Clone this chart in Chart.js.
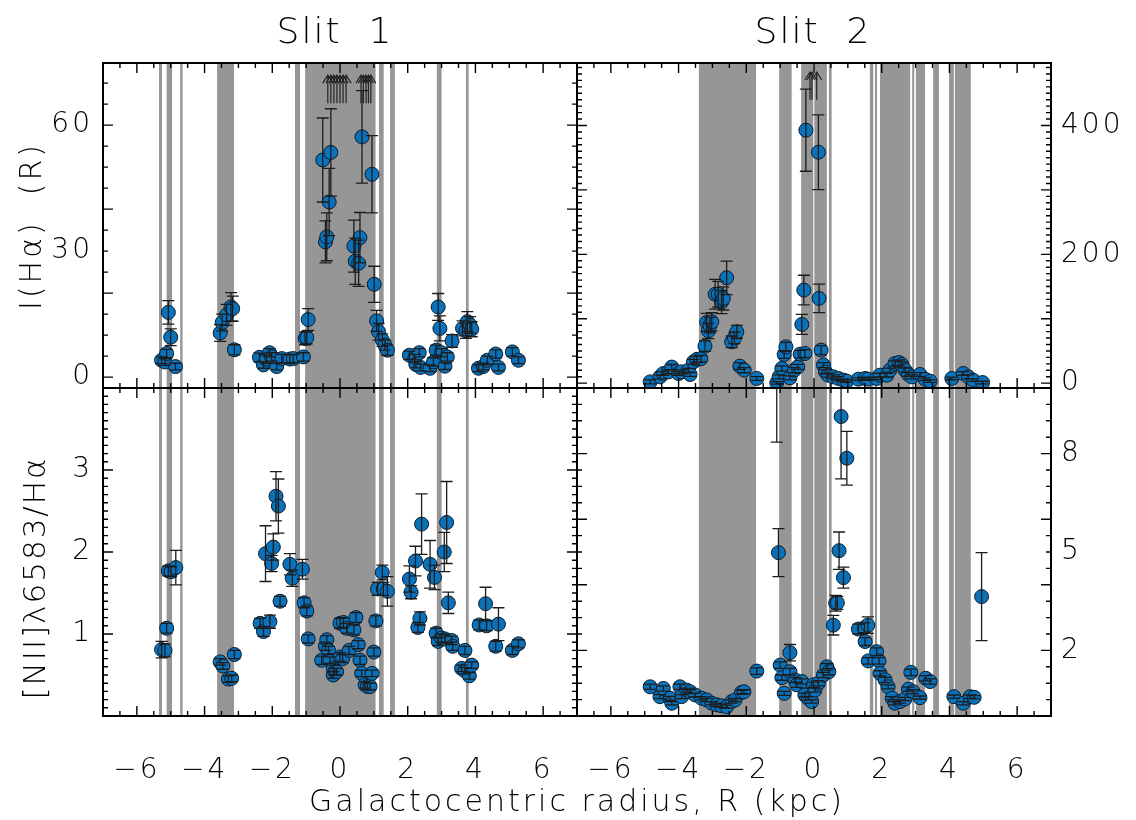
<!DOCTYPE html>
<html>
<head>
<meta charset="utf-8">
<script src="https://cdn.jsdelivr.net/npm/chart.js@4.4.1/dist/chart.umd.min.js"></script>
<style>
  html, body { margin: 0; padding: 0; background: #fff; }
  #wrap { position: relative; width: 1136px; height: 820px; overflow: hidden; background: #fff; }
  #wrap canvas { position: absolute; left: 0; top: 0; }
  .t { position: absolute; font-family: 'DejaVu Sans', sans-serif; font-weight: 200; color: #000; white-space: pre; transform: translate(-50%, -50%); line-height: 1; }
  .rot { transform: translate(-50%, -50%) rotate(-90deg); }
</style>
</head>
<body>
<div id="wrap">
  <canvas id="cTL" width="1136" height="820"></canvas>
  <canvas id="cTR" width="1136" height="820"></canvas>
  <canvas id="cBL" width="1136" height="820"></canvas>
  <canvas id="cBR" width="1136" height="820"></canvas>
  <div class="t" style="left:335px;top:31px;font-size:36px;letter-spacing:2px;">Slit  1</div>
  <div class="t" style="left:813px;top:31px;font-size:36px;letter-spacing:2px;">Slit  2</div>
  <div class="t" style="left:577px;top:801px;font-size:30px;letter-spacing:3px;">Galactocentric radius, R (kpc)</div>
  <div class="t rot" style="left:31px;top:226px;font-size:30px;letter-spacing:3px;">I(Hα)  (R)</div>
  <div class="t rot" style="left:34px;top:578px;font-size:31px;letter-spacing:2px;">[NII]λ6583/Hα</div>
</div>
<script>
// ---------------- DATA ----------------
// x tick labels (kpc) shared by both columns
const rTickLabels = [-6, -4, -2, 0, 2, 4, 6];
// y tick labels
const s1HaTickLabels = [0, 30, 60];
const s2HaTickLabels = [0, 200, 400];
const s1N2TickLabels = [1, 2, 3];
const s2N2TickLabels = [2, 5, 8];

// Slit 1 : I(Halpha) [R]
const s1HaR   = [-5.27,-5.17,-5.12,-5.07,-5.00,-4.86,-3.54,-3.48,-3.35,-3.22,-3.17,-3.12,-2.38,-2.26,-2.17,-2.08,-2.02,-1.87,-1.72,-1.48,-1.38,-1.08,-1.03,-0.98,-0.94,-0.51,-0.43,-0.39,-0.32,-0.27,0.41,0.45,0.55,0.59,0.65,0.945,1.01,1.08,1.14,1.25,1.33,1.40,2.05,2.21,2.24,2.34,2.38,2.66,2.76,2.84,2.90,2.95,3.00,3.10,3.17,3.31,3.62,3.72,3.76,3.84,3.89,4.09,4.23,4.35,4.60,4.68,5.09,5.27];
const s1Ha    = [4.0,3.6,5.6,15.4,9.5,2.5,10.5,13.0,14.8,16.7,16.3,6.5,4.7,2.9,4.3,5.8,4.8,2.5,4.4,4.3,4.4,4.8,9.2,9.4,13.7,51.7,32.2,33.4,41.7,53.5,31.2,27.6,27.1,33.2,57.2,48.3,22.1,13.4,10.8,8.8,7.6,6.4,5.2,4.4,3.0,5.8,2.3,2.1,3.6,6.4,16.7,11.6,5.8,2.6,4.8,8.6,11.6,11.0,13.2,12.4,11.4,2.1,2.5,4.0,5.5,2.3,6.0,4.0];
const s1HaErr = [0.8,0.8,1.0,2.8,2.0,0.8,2.0,2.0,2.5,3.4,3.0,1.2,1.0,0.8,1.0,1.0,1.0,0.8,1.0,1.0,1.0,1.0,1.5,1.5,2.6,10.0,5.0,5.7,8.0,10.4,6.2,5.5,5.5,6.0,11.0,9.2,4.3,2.5,2.0,1.5,1.2,1.2,1.0,1.0,0.8,1.0,0.8,0.8,1.0,1.2,3.2,3.0,1.0,0.8,1.0,1.5,1.8,1.8,2.4,2.0,1.8,0.8,0.8,1.0,1.0,0.8,1.0,0.8];
const s1ArrowR = [-0.36,-0.27,-0.18,-0.09,0.0,0.09,0.18,0.62,0.69,0.77,0.84,0.91];

// Slit 2 : I(Halpha) [R]
const s2HaR   = [-4.84,-4.55,-4.45,-4.30,-4.20,-4.00,-3.91,-3.71,-3.66,-3.56,-3.46,-3.34,-3.22,-3.17,-3.12,-3.07,-3.02,-2.92,-2.83,-2.73,-2.68,-2.58,-2.43,-2.35,-2.28,-2.19,-2.06,-1.69,-1.10,-1.03,-0.95,-0.88,-0.83,-0.71,-0.58,-0.48,-0.41,-0.36,-0.30,-0.24,-0.27,0.13,0.15,0.21,0.28,0.34,0.42,0.57,0.72,0.87,0.97,1.31,1.51,1.60,1.85,1.95,2.15,2.24,2.39,2.51,2.59,2.69,2.79,2.89,3.13,3.28,3.43,4.07,4.41,4.56,4.70,4.98];
const s2Ha    = [2,9.8,15,17.6,25,15,17.6,20,13.5,33,37,38,57.5,94.3,81.3,90,95.3,138,138,126,131.6,163.6,64.2,70.4,79.7,26.4,20.2,7.3,0.5,9.8,22.8,44.6,56.4,8.2,20.2,25.3,45,91.2,144.5,392.7,46,358.5,131.6,51.3,28,17.6,12.4,9.8,7.3,4.7,3.1,6.2,7.3,6.2,7.3,12.4,12.4,20.2,30.6,32,29,20.2,13.5,9.8,13.5,6.2,3.1,7.3,15,9.8,4.7,1];
const s2HaErr = [3,3,3,3,4,3,3,3,3,4,5,5,8,14,12,12,14,23,20,18,18,26,9,9,10,5,4,3,2,3,4,6,7,3,4,4,6,15.5,23,63.7,6,58,22,7,4,3,3,3,3,2,2,2,2,2,2,3,3,3,4,4,4,3,3,3,3,2,2,2,3,3,2,2];
const s2ArrowR = [-0.12,-0.06,0.08];

// Slit 1 : [NII]6583/Halpha
const s1N2R   = [-5.27,-5.17,-5.12,-5.07,-4.99,-4.85,-3.54,-3.46,-3.30,-3.20,-3.12,-2.36,-2.26,-2.07,-2.20,-2.02,-1.97,-1.89,-1.82,-1.77,-1.48,-1.41,-1.11,-1.06,-0.98,-0.94,-0.54,-0.43,-0.39,-0.34,-0.30,-0.20,-0.20,-0.15,-0.10,0.00,0.00,0.08,0.10,0.20,0.27,0.41,0.47,0.54,0.59,0.64,0.74,0.81,0.89,0.95,1.00,1.06,1.11,1.25,1.28,1.40,2.05,2.10,2.23,2.30,2.36,2.41,2.66,2.79,2.84,2.90,3.00,3.08,3.15,3.20,3.10,3.30,3.33,3.69,3.59,3.69,3.82,3.89,4.11,4.30,4.33,4.60,4.68,5.09,5.27];
const s1N2    = [0.81,0.80,1.07,1.77,1.76,1.81,0.66,0.61,0.45,0.46,0.75,1.13,1.03,1.15,1.98,1.86,2.06,2.68,2.56,1.40,1.85,1.68,1.79,1.38,1.28,0.94,0.68,0.85,0.93,0.80,0.68,0.50,0.58,0.54,0.54,1.13,0.72,0.70,1.14,1.07,0.80,1.05,1.20,0.87,0.68,0.52,0.38,0.36,0.36,0.52,0.78,1.16,1.55,1.75,1.55,1.52,1.67,1.51,1.89,1.08,1.19,2.34,1.85,1.69,1.01,0.91,0.95,2.00,2.36,1.38,0.94,0.92,0.85,0.80,0.58,0.55,0.49,0.62,1.11,1.37,1.10,0.85,1.12,0.80,0.88];
const s1N2Err = [0.10,0.08,0.06,0.06,0.06,0.21,0.04,0.04,0.04,0.04,0.05,0.06,0.06,0.08,0.34,0.10,0.16,0.30,0.33,0.06,0.13,0.10,0.12,0.06,0.06,0.05,0.05,0.05,0.05,0.05,0.04,0.04,0.04,0.04,0.04,0.06,0.05,0.05,0.06,0.06,0.05,0.06,0.06,0.05,0.05,0.04,0.04,0.04,0.04,0.04,0.05,0.06,0.08,0.09,0.08,0.18,0.16,0.08,0.18,0.06,0.08,0.37,0.29,0.15,0.06,0.05,0.05,0.24,0.50,0.13,0.05,0.05,0.05,0.05,0.04,0.04,0.04,0.04,0.06,0.20,0.06,0.06,0.20,0.05,0.05];

// Slit 2 : [NII]6583/Halpha
const s2N2R   = [-4.84,-4.55,-4.45,-4.25,-4.20,-3.96,-3.91,-3.76,-3.66,-3.51,-3.32,-3.17,-3.02,-2.87,-2.73,-2.58,-2.43,-2.33,-2.14,-2.07,-1.69,-1.10,-1.05,-1.00,-0.95,-0.88,-0.71,-0.71,-0.56,-0.51,-0.36,-0.27,-0.17,-0.07,-0.02,0.03,0.13,0.28,0.38,0.44,0.57,0.64,0.69,0.74,0.80,0.87,0.97,1.31,1.49,1.59,1.51,1.60,1.85,1.92,1.95,2.10,2.19,2.31,2.39,2.54,2.69,2.79,2.86,2.93,3.13,3.30,3.43,4.13,4.41,4.61,4.73,4.95];
const s2N2    = [0.89,0.59,0.84,0.54,0.39,0.89,0.59,0.79,0.74,0.64,0.54,0.49,0.39,0.34,0.31,0.28,0.44,0.49,0.72,0.74,1.37,12.0,4.98,1.55,1.17,0.69,1.93,1.35,1.10,0.95,1.05,0.64,0.54,0.44,0.95,0.79,1.00,1.25,1.50,1.35,2.77,3.44,3.45,5.04,9.13,4.22,7.86,2.65,2.69,2.77,2.27,1.68,1.96,1.68,1.30,1.10,0.89,0.54,0.39,0.44,0.52,0.82,1.33,0.74,0.56,1.15,1.05,0.59,0.39,0.59,0.57,3.64];
const s2N2Err = [0.08,0.06,0.08,0.06,0.05,0.08,0.06,0.06,0.06,0.06,0.05,0.05,0.05,0.05,0.05,0.05,0.05,0.05,0.06,0.06,0.10,3.65,0.73,0.10,0.08,0.06,0.25,0.10,0.08,0.08,0.08,0.06,0.05,0.05,0.08,0.06,0.08,0.08,0.10,0.10,0.30,0.24,0.20,0.57,1.90,0.32,0.82,0.15,0.15,0.25,0.12,0.10,0.12,0.10,0.08,0.08,0.06,0.05,0.05,0.05,0.05,0.06,0.10,0.06,0.05,0.08,0.08,0.05,0.05,0.05,0.05,1.34];

// Masked (grey) radial ranges, kpc
const s1Bands = [[-5.345,-5.257],[-5.12,-4.96],[-4.72,-4.65],[-3.63,-3.13],[-1.33,-1.18],[-1.03,1.05],[1.15,1.29],[1.48,1.62],[2.86,3.00],[3.72,3.80]];
const s2Bands = [[-3.40,-1.71],[-1.03,-0.66],[-0.38,-0.02],[0.01,0.38],[0.44,0.52],[1.65,1.75],[1.80,1.86],[1.95,2.84],[2.90,2.96],[3.01,3.28],[3.52,3.69],[3.99,4.13],[4.16,4.63]];

// ---------------- RENDERING ----------------
const rRange = [-7, 7];
const TICKFONT = { family: "'DejaVu Sans', sans-serif", size: 28, weight: '200' };
const BLUE = '#0a72ba';

function fmt(v) { return v < 0 ? '\u2212' + Math.abs(v) : String(v); }
function toPts(xs, ys) { return xs.map((x, i) => ({ x: x, y: ys[i] })); }

function decoPlugin(P) {
  return {
    id: 'deco',
    beforeDraw(c) { c.ctx.letterSpacing = '3px'; },
    beforeDatasetsDraw(c) {
      const ctx = c.ctx, a = c.chartArea, xs = c.scales.x;
      ctx.save();
      ctx.fillStyle = '#969696';
      P.bands.forEach(b => {
        const x0 = xs.getPixelForValue(b[0]), x1 = xs.getPixelForValue(b[1]);
        ctx.fillRect(x0, a.top, x1 - x0, a.bottom - a.top);
      });
      ctx.restore();
    },
    afterDatasetsDraw(c) {
      const ctx = c.ctx, a = c.chartArea, xs = c.scales.x, ys = c.scales.y;
      ctx.save();
      ctx.beginPath();
      ctx.rect(a.left, a.top, a.right - a.left, a.bottom - a.top);
      ctx.clip();
      ctx.strokeStyle = '#1c1c1c';
      ctx.lineWidth = 1.3;
      P.r.forEach((rv, i) => {
        const px = xs.getPixelForValue(rv);
        const y0 = ys.getPixelForValue(P.v[i] - P.e[i]);
        const y1 = ys.getPixelForValue(P.v[i] + P.e[i]);
        ctx.beginPath();
        ctx.moveTo(px, y0); ctx.lineTo(px, y1);
        ctx.moveTo(px - 6, y0); ctx.lineTo(px + 6, y0);
        ctx.moveTo(px - 6, y1); ctx.lineTo(px + 6, y1);
        ctx.stroke();
      });
      if (P.arrows) {
        ctx.strokeStyle = '#222';
        ctx.lineWidth = 1.2;
        P.arrows.forEach(rv => {
          const px = xs.getPixelForValue(rv);
          const yt = ys.getPixelForValue(P.arrowTo), yb = ys.getPixelForValue(P.arrowFrom);
          ctx.beginPath();
          ctx.moveTo(px, yb); ctx.lineTo(px, yt);
          ctx.moveTo(px - 5, yt + 8); ctx.lineTo(px, yt); ctx.lineTo(px + 5, yt + 8);
          ctx.stroke();
        });
      }
      ctx.restore();
    },
    afterDraw(c) {
      const ctx = c.ctx, a = c.chartArea, xs = c.scales.x, ys = c.scales.y;
      ctx.save();
      ctx.letterSpacing = '0px';
      ctx.strokeStyle = '#000';
      ctx.lineWidth = 1.4;
      ctx.beginPath();
      const isMaj = (v, m) => Math.abs(v / m - Math.round(v / m)) < 1e-6;
      for (let k = Math.ceil(rRange[0] / 0.5 + 1e-9); k * 0.5 < rRange[1] - 1e-9; k++) {
        const v = k * 0.5, px = xs.getPixelForValue(v);
        const L = isMaj(v, 2) ? 10 : 5;
        ctx.moveTo(px, a.bottom); ctx.lineTo(px, a.bottom - L);
        ctx.moveTo(px, a.top); ctx.lineTo(px, a.top + L);
      }
      for (let k = Math.ceil(P.yMin / P.yMinor + 1e-9); k * P.yMinor < P.yMax - 1e-9; k++) {
        const v = k * P.yMinor, py = ys.getPixelForValue(v);
        const L = isMaj(v, P.yMajor) ? 10 : 5;
        ctx.moveTo(a.left, py); ctx.lineTo(a.left + L, py);
        ctx.moveTo(a.right, py); ctx.lineTo(a.right - L, py);
      }
      ctx.stroke();
      ctx.lineWidth = 2;
      ctx.strokeRect(a.left, a.top, a.right - a.left, a.bottom - a.top);
      ctx.restore();
    }
  };
}

function makePanel(id, P) {
  const cfg = {
    type: 'scatter',
    data: {
      datasets: [{
        data: toPts(P.r, P.v),
        pointRadius: 7,
        pointHoverRadius: 7,
        pointBackgroundColor: BLUE,
        pointBorderColor: '#0b1b2b',
        pointBorderWidth: 1,
        showLine: false
      }]
    },
    options: {
      responsive: false,
      animation: false,
      devicePixelRatio: 1,
      events: [],
      layout: { padding: P.pad },
      plugins: { legend: { display: false }, tooltip: { enabled: false }, title: { display: false } },
      scales: {
        x: {
          type: 'linear', min: rRange[0], max: rRange[1], position: 'bottom',
          display: P.showX,
          grid: { display: false, drawTicks: false },
          border: { display: false },
          ticks: { font: TICKFONT, color: '#000', padding: 38, maxRotation: 0, autoSkip: false, callback: v => fmt(v) },
          afterBuildTicks: s => { s.ticks = rTickLabels.map(v => ({ value: v })); },
          afterFit: s => { s.height = P.showX ? 104 : 0; }
        },
        y: {
          type: 'linear', min: P.yMin, max: P.yMax, position: P.yPos,
          display: true,
          grid: { display: false, drawTicks: false },
          border: { display: false },
          ticks: { font: TICKFONT, color: '#000', padding: 10, autoSkip: false, callback: v => fmt(v) },
          afterBuildTicks: s => { s.ticks = P.yLabels.map(v => ({ value: v })); },
          afterFit: s => { s.width = P.yWidth; }
        }
      }
    },
    plugins: [decoPlugin(P)]
  };
  return new Chart(document.getElementById(id), cfg);
}

makePanel('cTL', {
  r: s1HaR, v: s1Ha, e: s1HaErr, bands: s1Bands,
  arrows: s1ArrowR, arrowFrom: 65.2, arrowTo: 71.9,
  yMin: -2.6, yMax: 74.8, yMinor: 5, yMajor: 20, yLabels: s1HaTickLabels,
  yPos: 'left', yWidth: 103, showX: false,
  pad: { left: 0, top: 63, right: 559, bottom: 432 }
});
makePanel('cTR', {
  r: s2HaR, v: s2Ha, e: s2HaErr, bands: s2Bands,
  arrows: s2ArrowR, arrowFrom: 440, arrowTo: 483,
  yMin: -7.5, yMax: 497, yMinor: 10, yMajor: 100, yLabels: s2HaTickLabels,
  yPos: 'right', yWidth: 85, showX: false,
  pad: { left: 577, top: 63, right: 0, bottom: 432 }
});
makePanel('cBL', {
  r: s1N2R, v: s1N2, e: s1N2Err, bands: s1Bands,
  yMin: 0, yMax: 4, yMinor: 0.1, yMajor: 1, yLabels: s1N2TickLabels,
  yPos: 'left', yWidth: 103, showX: true,
  pad: { left: 0, top: 388, right: 559, bottom: 0 }
});
makePanel('cBR', {
  r: s2N2R, v: s2N2, e: s2N2Err, bands: s2Bands,
  yMin: 0, yMax: 10, yMinor: 0.5, yMajor: 2, yLabels: s2N2TickLabels,
  yPos: 'right', yWidth: 85, showX: true,
  pad: { left: 577, top: 388, right: 0, bottom: 0 }
});
</script>
</body>
</html>
